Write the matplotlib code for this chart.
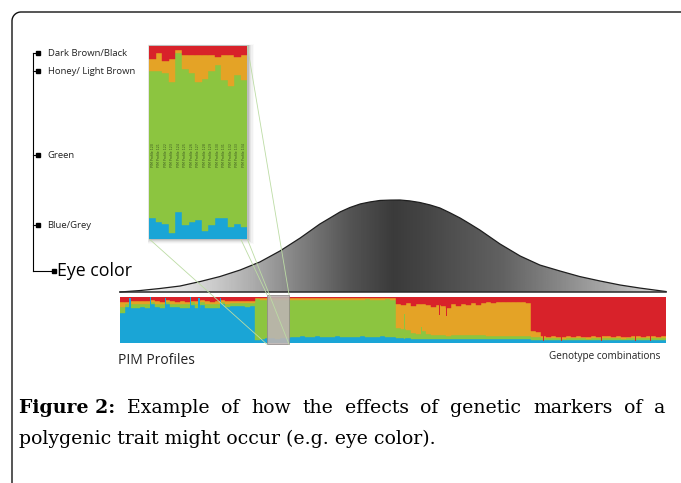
import matplotlib
matplotlib.use("Agg")
import matplotlib.pyplot as plt
import numpy as np
from matplotlib.patches import Rectangle, Polygon, ConnectionPatch
from matplotlib.colors import LinearSegmentedColormap

W, H, DPI = 681, 483, 100

RED, ORANGE, GREEN, BLUE = "#d8222a", "#e4a326", "#8cc540", "#1aa5d6"

# ---------------- data ----------------
# zoomed inset: 15 PIM profiles (percent of each eye colour component)
inset_profiles = list(range(120, 135))
inset_red    = [7, 4, 8, 7, 2, 5, 5, 5, 5, 5, 6, 5, 5, 6, 5]
inset_orange = [6, 9, 6, 12, 2, 7, 9, 14, 12, 8, 4, 13, 16, 9, 13]
inset_green  = [76, 78, 78, 78, 82, 81, 77, 71, 79, 80, 79, 71, 73, 77, 76]
inset_blue   = [11, 9, 8, 3, 14, 7, 9, 10, 4, 7, 11, 11, 6, 8, 6]

# main structure bar (groups of profiles, percent)
bar_red = [12, 11, 10, 9, 10, 9, 8, 10, 11, 8, 10, 11, 10, 11, 9, 10, 8, 10, 11, 10, 8, 10, 9, 10, 9, 10, 9,
           3, 3, 3, 3, 3, 3, 3, 3, 4, 3, 3, 4, 3, 3, 4, 3, 3, 4, 3, 3, 3, 4, 3, 3, 3, 4, 3, 3,
           16, 18, 15, 20, 17, 16, 19, 22, 18, 20, 25, 17, 21, 16, 18, 15, 19, 14, 13, 14, 12, 13, 11, 13, 12, 12, 14,
           74, 78, 85, 87, 86, 87, 88, 86, 87, 85, 87, 88, 86, 87, 86, 85, 87, 86, 88, 87, 86, 85, 87, 86, 85, 87, 86]
bar_orange = [10, 5, 7, 7, 6, 7, 4, 6, 6, 4, 6, 5, 6, 6, 4, 6, 5, 7, 6, 7, 4, 6, 6, 5, 6, 5, 6,
              3, 4, 4, 5, 4, 5, 4, 4, 4, 5, 4, 3, 4, 5, 4, 4, 5, 3, 4, 5, 4, 4, 3, 5, 4, 4, 3, 4,
              52, 52, 57, 60, 64, 58, 63, 62, 66, 63, 60, 66, 63, 68, 66, 69, 65, 70, 72, 71, 73, 72, 74, 72, 73, 74, 71,
              14, 10, 5, 4, 5, 4, 4, 5, 4, 5, 4, 4, 5, 4, 5, 5, 4, 5, 4, 4, 5, 5, 4, 5, 5, 4, 5]
bar_green = [14, 6, 7, 8, 6, 8, 5, 6, 7, 4, 7, 6, 8, 7, 5, 10, 6, 9, 9, 8, 5, 7, 6, 6, 6, 7, 6,
             88, 86, 84, 83, 85, 82, 84, 80, 80, 78, 81, 80, 79, 80, 79, 81, 78, 80, 80, 79, 81, 78, 81, 79, 80, 78, 82, 80,
             22, 20, 18, 12, 11, 18, 10, 9, 9, 10, 8, 10, 9, 9, 9, 9, 9, 9, 8, 8, 8, 8, 8, 8, 8, 7, 8,
             6, 6, 5, 4, 4, 4, 3, 4, 4, 5, 4, 3, 4, 4, 4, 5, 4, 4, 3, 4, 4, 5, 4, 4, 5, 4, 4]
bar_blue = [64, 78, 76, 76, 78, 76, 83, 78, 76, 84, 77, 78, 76, 76, 82, 74, 81, 74, 74, 75, 83, 77, 79, 79, 79, 78, 79,
            6, 7, 9, 9, 8, 10, 9, 13, 12, 14, 12, 13, 14, 12, 13, 12, 14, 13, 13, 13, 12, 14, 13, 13, 13, 14, 12, 13,
            10, 10, 10, 8, 8, 8, 8, 7, 7, 7, 7, 7, 7, 7, 7, 7, 7, 7, 7, 7, 7, 7, 7, 7, 7, 7, 7,
            6, 6, 5, 5, 5, 5, 5, 5, 5, 5, 5, 5, 5, 5, 5, 5, 5, 5, 5, 5, 5, 5, 5, 5, 5, 5, 5]

# thin single-profile spikes (position in group units, low/high percent)
spike_pos   = [1.8, 5.9, 8.9, 13.9, 15.6, 19.9, 56.6, 60.0, 63.6, 65.0, 84.4, 88.0, 96.0, 102.8, 105.8]
spike_lo    = [0, 0, 0, 0, 0, 0, 8, 8, 60, 58, 3, 3, 3, 3, 3]
spike_hi    = [97, 98, 97, 98, 96, 97, 62, 34, 100, 100, 100, 100, 100, 100, 100]
spike_color = [BLUE] * 6 + [GREEN] * 2 + [RED] * 7

# highlighted group of profiles in the main bar
zoom_lo, zoom_hi = 29.35, 33.75

# bell curve of the phenotype distribution (position 0-100 along bar, relative height)
bell_pos = [0, 3.7, 7.3, 11, 14.7, 18.3, 22, 25.6, 29.3, 33, 36.6, 38.5, 40.3, 42.1, 44, 45.8, 47.6,
            49.5, 51.3, 53.1, 54.9, 56.8, 58.6, 60.4, 62.3, 64.1, 65.9, 69.6, 73.3, 76.9, 80.6,
            84.2, 87.9, 91.6, 95.2, 100]
bell_h = [0, 0.016, 0.038, 0.065, 0.114, 0.168, 0.239, 0.326, 0.446, 0.587, 0.739, 0.806, 0.87, 0.918,
          0.957, 0.979, 0.995, 0.999, 1.0, 0.99, 0.973, 0.946, 0.913, 0.862, 0.804, 0.74, 0.674, 0.522,
          0.391, 0.293, 0.228, 0.168, 0.12, 0.076, 0.043, 0.005]

legend_names = ["Dark Brown/Black", "Honey/ Light Brown", "Green", "Blue/Grey"]
legend_ypx = [53, 71, 155, 225]

caption_bold = "Figure 2:"
caption_line1 = "Example of how the effects of genetic markers of a"
caption_line2 = "polygenic trait might occur (e.g. eye color)."

# ---------------- figure ----------------
fig = plt.figure(figsize=(W / DPI, H / DPI), dpi=DPI)
fig.patch.set_facecolor("white")


def px_rect(x0, y0, x1, y1):
    return [x0 / W, 1 - y1 / H, (x1 - x0) / W, (y1 - y0) / H]


# overlay in pixel units
ov = fig.add_axes([0, 0, 1, 1], zorder=0)
ov.set_xlim(0, W)
ov.set_ylim(H, 0)
ov.axis("off")

# frame with rounded top-left corner
rad = 9
ang = np.linspace(np.pi, 1.5 * np.pi, 20)
fx = np.concatenate([[12], 12 + rad + rad * np.cos(ang), [W + 5]])
fy = np.concatenate([[H + 5], 12 + rad + rad * np.sin(ang), [12]])
ov.plot(fx, fy, color="#111111", lw=1.0, clip_on=False, solid_capstyle="butt")

# legend bracket
bx, mx, tx = 32.5, 37.5, 47.5
ov.plot([bx, bx], [legend_ypx[0], 271], color="black", lw=0.8)
for name, y in zip(legend_names, legend_ypx):
    ov.plot([bx, mx], [y, y], color="black", lw=0.8)
    ov.plot([mx], [y], marker="s", ms=3.0, color="black")
    ov.text(tx, y, name, fontsize=6.8, family="Open Sans", va="center", ha="left", color="#222222")
ov.plot([bx, 53], [271, 271], color="black", lw=0.8)
ov.plot([53.5], [271], marker="s", ms=2.8, color="black")
ov.text(57, 270.5, "Eye color", fontsize=12.8, family="Open Sans", va="center", ha="left", color="black")

ov.text(118, 361, "PIM Profiles", fontsize=10.0, family="Open Sans", va="center", ha="left", color="#222222")
ov.text(660, 357, "Genotype combinations", fontsize=7.2, family="Open Sans", va="center", ha="right",
        color="#222222")

# inset shadow
ix0, iy0, ix1, iy1 = 149.3, 45.7, 247.3, 239
for k, a in enumerate([0.10, 0.07, 0.05, 0.035, 0.02]):
    d = k + 1
    ov.add_patch(Rectangle((ix0 - d * 0.3, iy0 - d * 0.3), ix1 - ix0 + d * 1.6, iy1 - iy0 + d * 1.2,
                           facecolor="black", edgecolor="none", alpha=a))

# bell curve
axb = fig.add_axes(px_rect(120, 200, 666, 292), zorder=1)
axb.set_xlim(0, 100)
axb.set_ylim(0, 1)
axb.axis("off")
verts = list(zip(bell_pos, bell_h)) + [(100, 0), (0, 0)]
poly = Polygon(verts, closed=True, facecolor="none", edgecolor="none")
axb.add_patch(poly)
stops = [(0, 0.97), (0.12, 0.88), (0.24, 0.68), (0.33, 0.50), (0.42, 0.33), (0.50, 0.23),
         (0.56, 0.27), (0.62, 0.32), (0.70, 0.38), (0.80, 0.52), (0.90, 0.67), (1.0, 0.86)]
cmap = LinearSegmentedColormap.from_list("bellgrad", [(p, (g, g, g)) for p, g in stops])
img = axb.imshow(np.linspace(0, 1, 600)[None, :], extent=(0, 100, 0, 1), aspect="auto",
                 cmap=cmap, vmin=0, vmax=1, interpolation="bilinear")
img.set_clip_path(poly)
axb.plot(bell_pos, bell_h, color="#1e1e1e", lw=0.9, clip_on=False, solid_joinstyle="round")
axb.plot([0, 100], [0, 0], color="#2a2a2a", lw=1.1, clip_on=False)

# main structure bar
axm = fig.add_axes(px_rect(120, 296.5, 666, 342.5), zorder=2)
n = len(bar_red)
x = np.arange(n)
bottom = np.zeros(n)
for vals, col in [(bar_blue, BLUE), (bar_green, GREEN), (bar_orange, ORANGE), (bar_red, RED)]:
    v = np.array(vals, dtype=float)
    axm.bar(x, v, width=1.0, bottom=bottom, align="edge", color=col, edgecolor=col, lw=0.3)
    bottom += v
for p, lo, hi, c in zip(spike_pos, spike_lo, spike_hi, spike_color):
    axm.bar(p, hi - lo, bottom=lo, width=0.3, align="edge", color=c, lw=0)
axm.set_xlim(0, n)
axm.set_ylim(0, 100)
axm.axis("off")
rect_lo, rect_hi = -4, 104
axm.add_patch(Rectangle((zoom_lo, rect_lo), zoom_hi - zoom_lo, rect_hi - rect_lo,
                        facecolor="#bcb4b2", edgecolor="#8f8887", lw=0.6, alpha=0.9,
                        clip_on=False, zorder=5))

# inset of zoomed profiles
axi = fig.add_axes(px_rect(ix0, iy0, ix1, iy1), zorder=4)
ni = len(inset_red)
xi = np.arange(ni)
bottom = np.zeros(ni)
for vals, col in [(inset_blue, BLUE), (inset_green, GREEN), (inset_orange, ORANGE), (inset_red, RED)]:
    v = np.array(vals, dtype=float)
    axi.bar(xi, v, width=1.0, bottom=bottom, align="edge", color=col, edgecolor=col, lw=0.3)
    bottom += v
for i, prof in enumerate(inset_profiles):
    axi.text(i + 0.5, 43.5, f"PIM Profile {prof}", rotation=90, fontsize=2.3, ha="center", va="center",
             color="#3f5a22", family="DejaVu Sans")
axi.set_xlim(0, ni)
axi.set_ylim(0, 100)
axi.axis("off")

# connector lines
for (fa, fb) in [((0, 1), (zoom_lo, rect_hi)), ((1, 1), (zoom_hi, rect_hi)),
                 ((0, 0), (zoom_lo, rect_lo)), ((1, 0), (zoom_hi, rect_lo))]:
    con = ConnectionPatch(xyA=fa, coordsA=axi.transAxes, xyB=fb, coordsB=axm.transData,
                          color="#bcdca4", lw=0.6)
    con.set_zorder(3)
    fig.add_artist(con)

# caption: font size fitted so the second line spans the measured width; first line justified
fig.canvas.draw()
r = fig.canvas.get_renderer()
fam = "DejaVu Serif"
y1, y2 = 413, 444
left, right, line2_right = 19, 665, 437
probe = ov.text(left, y2, caption_line2, fontsize=10, family=fam, va="baseline")
cap_fs = 10 * (line2_right - left) / probe.get_window_extent(r).width
probe.set_fontsize(cap_fs)
items = [ov.text(0, y1, caption_bold, fontsize=cap_fs, family=fam, fontweight="bold", va="baseline")]
for w in caption_line1.split():
    items.append(ov.text(0, y1, w, fontsize=cap_fs, family=fam, va="baseline"))
widths = [t.get_window_extent(r).width for t in items]
gap = (right - left - sum(widths)) / (len(items) - 1)
xpos = left
for t, wd in zip(items, widths):
    t.set_x(xpos)
    xpos += wd + gap

fig.savefig("out.png", dpi=DPI, facecolor="white")
